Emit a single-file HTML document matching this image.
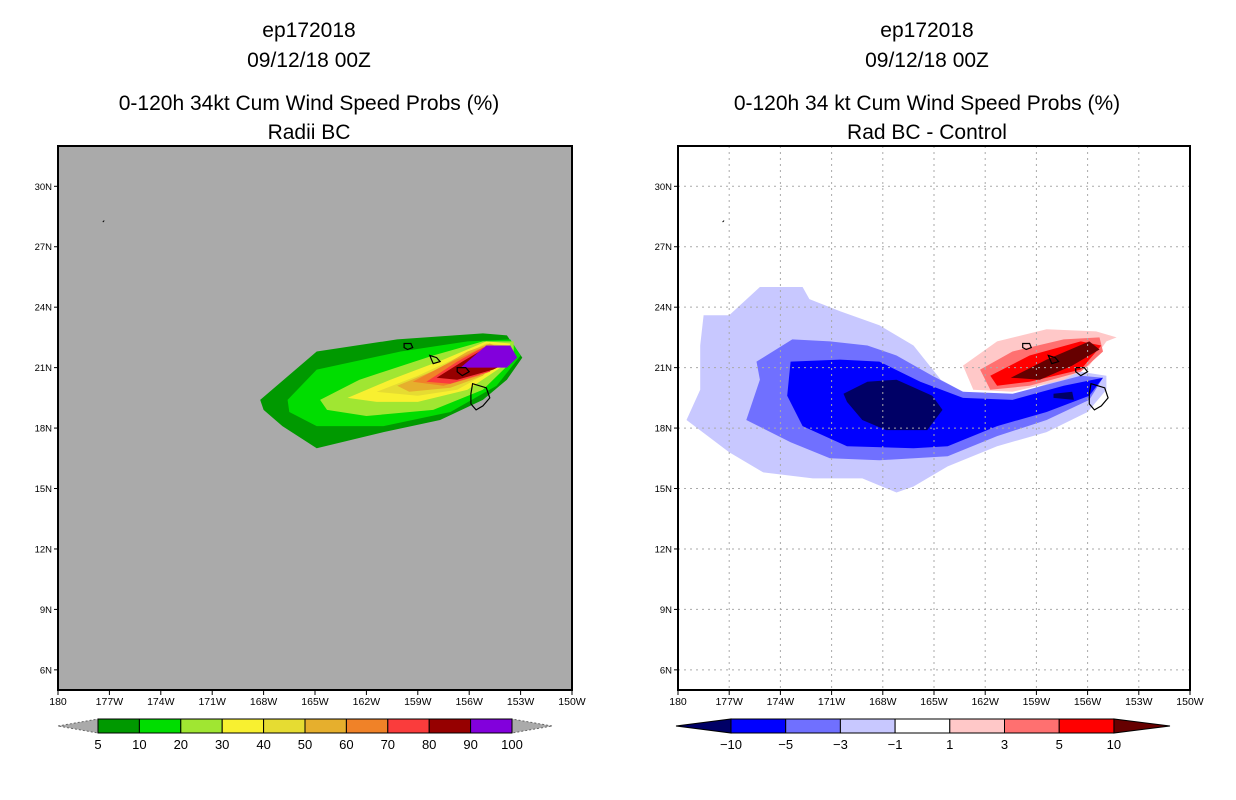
<!DOCTYPE html>
<html><head><meta charset="utf-8"><style>
body{margin:0;background:#fff;width:1236px;height:800px;overflow:hidden}
svg{display:block}
text{font-family:"Liberation Sans",sans-serif}
</style></head><body>
<svg id="s" width="1236" height="800" xmlns="http://www.w3.org/2000/svg">
<g font-size="21" text-anchor="middle" fill="#000">
<text x="309" y="37">ep172018</text><text x="309" y="67">09/12/18 00Z</text>
<text x="309" y="110">0-120h 34kt Cum Wind Speed Probs (%)</text><text x="309" y="139">Radii BC</text></g>
<g font-size="21" text-anchor="middle" fill="#000">
<text x="927" y="37">ep172018</text><text x="927" y="67">09/12/18 00Z</text>
<text x="927" y="110">0-120h 34 kt Cum Wind Speed Probs (%)</text><text x="927" y="139">Rad BC - Control</text></g>
</svg>
<script>
const lonTicks=[180,177,174,171,168,165,162,159,156,153,150];
const lonLabels=["180","177W","174W","171W","168W","165W","162W","159W","156W","153W","150W"];
const latTicks=[30,27,24,21,18,15,12,9,6];
const latLabels=["30N","27N","24N","21N","18N","15N","12N","9N","6N"];
const leftColors=["#009900","#00dd00","#a0e632","#f8f030","#e6dc32","#e6af2d","#f08228","#fa3c3c","#960000","#8200dc"];
const leftLabels=["5","10","20","30","40","50","60","70","80","90","100"];
const left5=[[168.2,19.4],[164.9,21.8],[160.2,22.4],[155.2,22.7],[153.8,22.6],[152.9,21.5],[153.8,20.4],[155.2,19.4],[157.7,18.4],[161.0,17.8],[164.9,17.0],[166.9,18.1],[168.0,18.9]];
const left10=[[166.6,19.4],[164.9,20.9],[160.0,21.8],[156.1,22.3],[153.6,22.4],[153.0,21.6],[154.4,20.1],[157.1,18.8],[161.0,18.1],[164.9,18.1],[166.5,18.8]];
const left20=[[164.7,19.4],[162.4,20.4],[158.1,21.6],[155.2,22.3],[153.4,22.3],[153.4,21.4],[155.2,19.9],[158.1,18.9],[162.0,18.6],[164.3,18.9]];
const left30=[[163.1,19.5],[160.6,20.4],[157.5,21.4],[155.0,22.3],[153.6,22.2],[154.0,21.1],[156.1,19.9],[159.0,19.3],[161.4,19.3]];
const left40=[[161.4,19.8],[159.0,20.6],[156.7,21.5],[155.0,22.2],[153.8,22.1],[154.6,20.9],[156.7,19.9],[159.0,19.6]];
const left50=[[160.2,20.1],[157.9,20.9],[156.1,21.8],[154.8,22.2],[154.0,21.9],[155.2,20.6],[157.1,20.0],[159.5,19.8]];
const left60=[[159.3,20.3],[157.5,21.1],[155.5,21.9],[154.4,22.1],[155.4,20.6],[157.5,20.1]];
const left70=[[158.5,20.3],[156.7,21.3],[155.2,22.0],[154.0,22.1],[154.8,20.8],[157.1,20.2]];
const left80=[[157.9,20.5],[156.4,21.3],[155.0,22.0],[153.6,22.1],[153.4,21.4],[154.6,20.9],[156.7,20.4]];
const left90=[[156.5,21.0],[155.0,22.1],[153.6,22.1],[153.2,21.5],[153.8,21.0]];
const rightColors=["#c8c8ff","#7070ff","#0000ff","#000066","#ffc8c8","#ff7070","#ff0000","#660000"];
const rightLabels=["-10","-5","-3","-1","1","3","5","10"];
const rightBoxColors=["#0000ff","#7070ff","#c8c8ff","#ffffff","#ffc8c8","#ff7070","#ff0000"];
const rNeg1=[[175.2,25.0],[172.7,25.0],[172.3,24.4],[170.5,23.8],[168.2,23.1],[166.2,22.1],[164.6,20.4],[163.3,19.8],[160.4,19.6],[156.4,20.8],[154.9,20.6],[154.9,19.9],[156.0,18.8],[158.4,17.8],[161.3,17.1],[164.2,16.1],[166.2,15.1],[167.2,14.8],[169.2,15.5],[172.1,15.5],[175.0,15.8],[177.0,16.8],[179.5,18.4],[178.7,19.9],[178.7,22.1],[178.5,23.6],[177.0,23.6]];
const rNeg3=[[173.3,22.4],[171.1,22.3],[168.9,22.1],[167.2,21.6],[165.1,20.6],[163.3,19.8],[160.4,19.7],[156.4,20.6],[155.1,20.5],[155.9,19.4],[158.4,18.4],[161.3,17.6],[164.2,16.6],[168.2,16.4],[171.1,16.5],[173.4,17.3],[176.0,18.4],[175.2,20.4],[175.4,21.3]];
const rNeg5=[[173.4,21.3],[170.5,21.4],[168.2,21.3],[165.8,20.3],[163.3,19.5],[160.4,19.4],[157.4,20.1],[155.1,20.5],[155.9,19.6],[158.4,18.8],[161.3,18.1],[164.2,17.1],[166.2,17.0],[170.1,17.1],[172.7,18.1],[173.6,19.6]];
const rNeg10=[[170.3,19.7],[168.9,20.3],[167.2,20.4],[165.1,19.6],[164.5,18.9],[165.4,17.9],[167.8,17.9],[169.2,18.4],[170.1,19.3]];
const rPos1=[[163.3,21.1],[161.3,22.3],[158.4,22.9],[155.5,22.8],[154.3,22.5],[154.9,22.3],[155.9,21.1],[157.4,20.4],[160.4,19.8],[162.7,19.9]];
const rPos3=[[162.3,20.9],[160.4,21.8],[157.4,22.4],[155.3,22.5],[155.1,21.8],[156.4,20.8],[159.4,20.1],[161.7,19.9]];
const rPos5=[[161.7,20.6],[159.4,21.6],[156.4,22.3],[155.2,22.1],[156.4,20.9],[159.4,20.3],[161.3,20.1]];
const rPos10=[[160.5,20.5],[158.4,21.4],[155.9,22.3],[155.3,21.9],[156.9,21.1],[158.8,20.4]];
const rNavySliver=[[158.0,19.7],[156.9,19.8],[156.8,19.4],[158.0,19.5]];
const islandBig=[[155.8,20.2],[155.0,20.0],[154.8,19.5],[155.2,19.1],[155.6,18.9],[155.9,19.2],[155.9,19.7]];
const islandMaui=[[156.7,21.0],[156.2,21.0],[156.0,20.8],[156.4,20.6],[156.7,20.8]];
const islandOahu=[[158.3,21.6],[157.9,21.5],[157.7,21.3],[158.1,21.2],[158.2,21.4]];
const islandKauai=[[159.8,22.2],[159.4,22.2],[159.3,22.0],[159.6,21.9],[159.8,22.0]];
const atollMark=[177.3,28.3];

const NS="http://www.w3.org/2000/svg";
const svg=document.getElementById('s');
function el(t,a,p){const e=document.createElementNS(NS,t);for(const k in a)e.setAttribute(k,a[k]);(p||svg).appendChild(e);return e;}
function mkPanel(x0,x1){
  const y0=146,y1=690;
  return {x0,x1,y0,y1,
    X:lon=>x0+(180-lon)/30*(x1-x0),
    Y:lat=>y0+(32-lat)/27*(y1-y0)};
}
const L=mkPanel(58,572), R=mkPanel(678,1190);
function poly(P,pts,fill,stroke,g,name){
  const e=el('polygon',{points:pts.map(p=>P.X(p[0]).toFixed(1)+','+P.Y(p[1]).toFixed(1)).join(' '),fill:fill,stroke:stroke||'none','stroke-width':stroke?1.2:0},g);
  
  
  return e;
}
function axes(P,bg,prefix){
  const g=el('g',{});
  
  
  const bgr=el('rect',{x:P.x0,y:P.y0,width:P.x1-P.x0,height:P.y1-P.y0,fill:bg},g);
  
  
  return g;
}
function frame(P,grid,prefix){
  const g=el('g',{});
  
  
  if(grid){
    lonTicks.slice(1,-1).forEach(v=>{el('line',{x1:P.X(v),x2:P.X(v),y1:P.y0,y2:P.y1,stroke:'#aaa','stroke-dasharray':'2,4'},g);});
    latTicks.forEach(v=>{el('line',{x1:P.x0,x2:P.x1,y1:P.Y(v),y2:P.Y(v),stroke:'#aaa','stroke-dasharray':'2,4'},g);});
  }
  const fr=el('rect',{x:P.x0,y:P.y0,width:P.x1-P.x0,height:P.y1-P.y0,fill:'none',stroke:'#000','stroke-width':2},g);
  
  
  lonTicks.forEach((v,i)=>{
    el('line',{x1:P.X(v),x2:P.X(v),y1:P.y1,y2:P.y1+5,stroke:'#000'},g);
    const t=el('text',{x:P.X(v),y:P.y1+15,'font-size':10.5,'text-anchor':'middle'},g);
    t.textContent=lonLabels[i];
    
    
  });
  latTicks.forEach((v,i)=>{
    el('line',{x1:P.x0-4,x2:P.x0,y1:P.Y(v),y2:P.Y(v),stroke:'#000'},g);
    const t=el('text',{x:P.x0-6,y:P.Y(v)+3.5,'font-size':9.5,'text-anchor':'end'},g);
    t.textContent=latLabels[i];
    
    
  });
}
function islands(P,g){
  [islandBig,islandMaui,islandOahu,islandKauai].forEach(p=>poly(P,p,'none','#000',g,'island-outline'));
  const m=el('line',{x1:P.X(atollMark[0]),y1:P.Y(atollMark[1]),x2:P.X(atollMark[0])-1.5,y2:P.Y(atollMark[1])+1.5,stroke:'#000'},g);
  
  
}
const gl=axes(L,'#aaaaaa','left');
[left5,left10,left20,left30,left40,left50,left60,left70,left80,left90].forEach((p,i)=>poly(L,p,leftColors[i],null,gl,'prob-contour-'+leftLabels[i]));
islands(L,gl);
frame(L,false,'left');
const gr=axes(R,'#ffffff','right');
[rNeg1,rNeg3,rNeg5,rNeg10,rNavySliver,rPos1,rPos3,rPos5,rPos10].forEach((p,i)=>{
  const c=[rightColors[0],rightColors[1],rightColors[2],rightColors[3],rightColors[3],rightColors[4],rightColors[5],rightColors[6],rightColors[7]][i];
  poly(R,p,c,null,gr,'diff-contour');
});
islands(R,gr);
frame(R,true,'right');
(function(){
  const g=el('g',{});
  
  
  const x0=98,w=41.4,y0=719,h=14;
  el('polygon',{points:`58,${y0+h/2} ${x0},${y0} ${x0},${y0+h}`,fill:'#aaa',stroke:'#666','stroke-dasharray':'2,2'},g);
  el('polygon',{points:`552,${y0+h/2} ${x0+10*w},${y0} ${x0+10*w},${y0+h}`,fill:'#aaa',stroke:'#666','stroke-dasharray':'2,2'},g);
  leftColors.forEach((c,i)=>{const r=el('rect',{x:x0+i*w,y:y0,width:w,height:h,fill:c,stroke:'#000'},g);
    
    });
  leftLabels.forEach((s,i)=>{const t=el('text',{x:x0+i*w,y:749,'font-size':13,'text-anchor':'middle'},g);t.textContent=s;
    
    });
})();
(function(){
  const g=el('g',{});
  
  
  const x0=731,w=54.7,y0=719,h=14;
  el('polygon',{points:`676,${y0+h/2} ${x0},${y0} ${x0},${y0+h}`,fill:'#000066',stroke:'#000'},g);
  el('polygon',{points:`1170,${y0+h/2} ${x0+7*w},${y0} ${x0+7*w},${y0+h}`,fill:'#660000',stroke:'#000'},g);
  rightBoxColors.forEach((c,i)=>{const r=el('rect',{x:x0+i*w,y:y0,width:w,height:h,fill:c,stroke:'#000'},g);
    
    });
  rightLabels.forEach((s,i)=>{const t=el('text',{x:x0+i*w,y:749,'font-size':13,'text-anchor':'middle'},g);t.textContent=s.replace('-','\u2212');
    
    });
})();
</script>
</body></html>
